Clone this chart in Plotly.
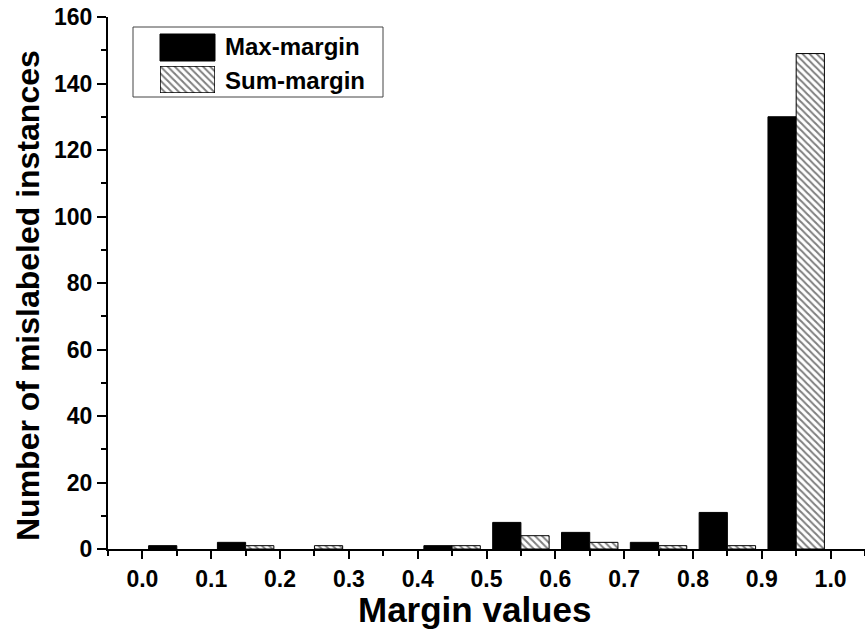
import plotly.graph_objects as go

# Histogram of margin values for mislabeled instances (bins of width 0.1)
bin_centers = [0.05, 0.15, 0.25, 0.35, 0.45, 0.55, 0.65, 0.75, 0.85, 0.95]
max_margin = [1, 2, 0, 0, 1, 8, 5, 2, 11, 130]
sum_margin = [0, 1, 1, 0, 1, 4, 2, 1, 1, 149]

x_ticks = [0.0, 0.1, 0.2, 0.3, 0.4, 0.5, 0.6, 0.7, 0.8, 0.9, 1.0]
x_tick_labels = ["0.0", "0.1", "0.2", "0.3", "0.4", "0.5", "0.6", "0.7", "0.8", "0.9", "1.0"]
y_ticks = [0, 20, 40, 60, 80, 100, 120, 140, 160]
y_tick_labels = ["0", "20", "40", "60", "80", "100", "120", "140", "160"]

series_names = ["Max-margin", "Sum-margin"]

W, H = 865, 630
ML, MR, MT, MB = 108, 0, 17, 81
PW, PH = W - ML - MR, H - MT - MB

FONT = "Liberation Sans, Arial, sans-serif"


def px_x(px):
    return (px - ML) / PW


def px_y(py):
    return (H - MB - py) / PH


def outline_widths(values):
    # empty bins get no outline so nothing shows on the baseline
    return [1 if v > 0 else 0 for v in values]


hatch = dict(shape="\\", fgcolor="black", bgcolor="white", size=5, solidity=0.4)

fig = go.Figure()

fig.add_trace(go.Bar(
    x=bin_centers, y=max_margin, name=series_names[0],
    marker=dict(color="black", line=dict(color="black", width=outline_widths(max_margin))),
    showlegend=False,
))
fig.add_trace(go.Bar(
    x=bin_centers, y=sum_margin, name=series_names[1],
    marker=dict(color="white", pattern=hatch,
                line=dict(color="black", width=outline_widths(sum_margin))),
    showlegend=False,
))

# Hatched legend key drawn on its own hidden axes
fig.add_trace(go.Bar(
    x=[0.5], y=[1], width=[1], xaxis="x3", yaxis="y3",
    marker=dict(color="white", pattern=hatch, line=dict(color="black", width=1.5)),
    showlegend=False, hoverinfo="skip", cliponaxis=False,
))

tick_font = dict(family=FONT, size=23, color="black", weight=700)

fig.update_layout(
    width=W, height=H,
    margin=dict(l=ML, r=MR, t=MT, b=MB, pad=0),
    paper_bgcolor="white", plot_bgcolor="white",
    barmode="group", bargap=0.18, bargroupgap=0,
    xaxis=dict(
        range=[-0.05, 1.05], tickmode="array", tickvals=x_ticks, ticktext=x_tick_labels,
        ticks="outside", ticklen=8, tickwidth=1.5, tickcolor="black",
        minor=dict(tickmode="linear", tick0=-0.05, dtick=0.05, ticks="outside",
                   ticklen=5, tickwidth=1.5, tickcolor="black"),
        showline=True, linewidth=2, linecolor="black",
        showgrid=False, zeroline=False, tickfont=tick_font,
    ),
    xaxis2=dict(
        range=[-0.05, 1.05], overlaying="x", side="top", anchor="y",
        tickmode="array", tickvals=x_ticks, showticklabels=False,
        ticks="inside", ticklen=8, tickwidth=1.5, tickcolor="black",
        minor=dict(tickmode="linear", tick0=-0.05, dtick=0.05, ticks="inside",
                   ticklen=5, tickwidth=1.5, tickcolor="black"),
        showline=True, linewidth=2, linecolor="black",
        showgrid=False, zeroline=False,
    ),
    yaxis=dict(
        range=[0, 160], tickmode="array", tickvals=y_ticks, ticktext=y_tick_labels,
        ticks="outside", ticklen=9, tickwidth=1.5, tickcolor="black",
        minor=dict(tickmode="linear", tick0=0, dtick=10, ticks="outside",
                   ticklen=5, tickwidth=1.5, tickcolor="black"),
        showline=True, linewidth=2, linecolor="black",
        showgrid=False, zeroline=False, tickfont=tick_font,
    ),
    yaxis2=dict(
        range=[0, 160], overlaying="y", side="right", anchor="x",
        tickmode="array", tickvals=y_ticks, showticklabels=False,
        ticks="inside", ticklen=9, tickwidth=1.5, tickcolor="black",
        minor=dict(tickmode="linear", tick0=0, dtick=10, ticks="inside",
                   ticklen=5, tickwidth=1.5, tickcolor="black"),
        showline=False, showgrid=False, zeroline=False,
    ),
    xaxis3=dict(domain=[px_x(160), px_x(215)], anchor="y3", range=[0, 1], visible=False),
    yaxis3=dict(domain=[px_y(93), px_y(66)], anchor="x3", range=[0, 1], visible=False),
    showlegend=False,
)

# Axis titles
fig.add_annotation(
    text="Margin values", xref="paper", yref="paper",
    x=px_x(474), y=px_y(609), xanchor="center", yanchor="middle", showarrow=False,
    font=dict(family=FONT, size=35, color="black", weight="bold"),
)
fig.add_annotation(
    text="Number of mislabeled instances", xref="paper", yref="paper",
    x=px_x(28), y=px_y(296), xanchor="center", yanchor="middle", showarrow=False,
    textangle=-90, font=dict(family=FONT, size=32, color="black", weight="bold"),
)

# Legend box, solid key and labels
fig.add_shape(type="rect", xref="paper", yref="paper", layer="below",
              x0=px_x(133), x1=px_x(383), y0=px_y(97), y1=px_y(27),
              line=dict(color="#444444", width=1))
fig.add_shape(type="rect", xref="paper", yref="paper",
              x0=px_x(160), x1=px_x(215), y0=px_y(61), y1=px_y(34),
              fillcolor="black", line=dict(color="black", width=1))
for name, cy in zip(series_names, [47, 80]):
    fig.add_annotation(
        text=name, xref="paper", yref="paper", x=px_x(223), y=px_y(cy),
        xanchor="left", yanchor="middle", showarrow=False,
        font=dict(family=FONT, size=24, color="black", weight="bold"),
    )

fig.write_html("out.html")
